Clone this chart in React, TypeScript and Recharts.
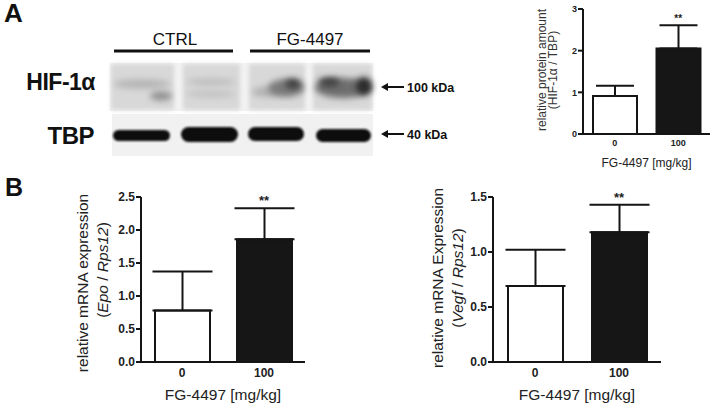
import React from 'react';
import { BarChart, Bar, Cell, XAxis, YAxis, ErrorBar, ReferenceDot, Label } from 'recharts';

// dose groups shared by all three panels
const doseLabels = ['0', '100'];
const sigMarks = ['', '**'];

// A: HIF-1a / TBP densitometry
const hifMean = [0.91, 2.05];
const hifErr = [0.25, 0.56];
const hifTicks = [0, 1, 2, 3];

// B left: Epo mRNA
const epoMean = [0.78, 1.86];
const epoErr = [0.59, 0.47];
const epoTicks = [0, 0.5, 1, 1.5, 2, 2.5];

// B right: Vegf mRNA
const vegfMean = [0.69, 1.18];
const vegfErr = [0.33, 0.25];
const vegfTicks = [0, 0.5, 1, 1.5];

const FONT = '"Liberation Sans", Arial, Helvetica, sans-serif';
const INK = '#151515';
const barFills = ['#ffffff', '#161616'];

interface BarsProps {
  means: number[];
  errs: number[];
  ticks: number[];
  decimals: number;
  left: number;
  top: number;
  width: number;
  height: number;
  yAxisWidth: number;
  right: number;
  marginTop: number;
  xAxisHeight: number;
  barSize: number;
  capWidth: number;
  tickFont: number;
  labelFont: number;
  labelOffset: number;
  sigFont: number;
}

function DoseBars(p: BarsProps) {
  const rows = doseLabels.map((d, i) => ({ dose: d, mean: p.means[i], err: [0, p.errs[i]] }));
  const tickStyle = { fontSize: p.tickFont, fontWeight: 700, fill: '#222', fontFamily: FONT };

  return (
    <div style={{ position: 'absolute', left: p.left, top: p.top }}>
      <BarChart width={p.width} height={p.height} data={rows} margin={{ top: p.marginTop, right: p.right, left: 0, bottom: 0 }} barCategoryGap={0}>
        <XAxis dataKey="dose" height={p.xAxisHeight} tickLine={false} tickSize={4} axisLine={{ stroke: INK, strokeWidth: 2 }} tick={tickStyle}>
          <Label value="FG-4497 [mg/kg]" position="insideBottom" offset={p.labelOffset} style={{ fontSize: p.labelFont, fill: '#222', fontFamily: FONT }} />
        </XAxis>
        <YAxis
          width={p.yAxisWidth}
          domain={[0, p.ticks[p.ticks.length - 1]]}
          ticks={p.ticks}
          interval={0}
          tickFormatter={(v: number) => v.toFixed(p.decimals)}
          axisLine={{ stroke: INK, strokeWidth: 2 }}
          tickLine={{ stroke: INK, strokeWidth: 2 }}
          tickSize={5}
          tickMargin={1}
          tick={tickStyle}
        />
        <Bar dataKey="mean" barSize={p.barSize} stroke={INK} strokeWidth={2} isAnimationActive={false}>
          {rows.map((_, i) => <Cell key={i} fill={barFills[i]} />)}
          <ErrorBar dataKey="err" width={p.capWidth} stroke={INK} strokeWidth={2} direction="y" />
        </Bar>
        {rows.map((r, i) =>
          sigMarks[i] ? (
            <ReferenceDot
              key={i}
              x={r.dose}
              y={r.mean + p.errs[i]}
              r={0}
              fill="none"
              stroke="none"
              label={{ value: sigMarks[i], position: 'top', offset: 3, fontSize: p.sigFont, fontWeight: 700, fill: '#222', fontFamily: FONT }}
            />
          ) : null
        )}
      </BarChart>
    </div>
  );
}

// western blot drawn as plain svg (not data)
function Blot() {
  const lanes = [
    { x: 111, w: 63 },
    { x: 183, w: 57 },
    { x: 249, w: 56 },
    { x: 313, w: 59 },
  ];
  const hif = [
    { x: 114, y: 84, w: 56, h: 9, c: '#b4b4b4' },
    { x: 150, y: 96, w: 22, h: 9, c: '#8e8e8e' },
    { x: 186, y: 82, w: 50, h: 7, c: '#bdbdbd' },
    { x: 186, y: 94, w: 50, h: 7, c: '#c2c2c2' },
    { x: 252, y: 92, w: 30, h: 10, c: '#b0b0b0' },
    { x: 268, y: 88, w: 36, h: 18, c: '#7a7a7a' },
    { x: 285, y: 84, w: 16, h: 10, c: '#3c3c3c' },
    { x: 315, y: 88, w: 56, h: 20, c: '#6e6e6e' },
    { x: 318, y: 82, w: 22, h: 9, c: '#3e3e3e' },
    { x: 356, y: 86, w: 16, h: 18, c: '#2a2a2a' },
  ];
  const tbp = [
    { x: 113, y: 130, w: 57, h: 11 },
    { x: 181, y: 127, w: 57, h: 15 },
    { x: 248, y: 127, w: 56, h: 14 },
    { x: 316, y: 129, w: 55, h: 13 },
  ];
  return (
    <svg width={714} height={405} style={{ position: 'absolute', left: 0, top: 0, pointerEvents: 'none' }} fontFamily={FONT}>
      <defs>
        <filter id="soft" x="-40%" y="-80%" width="180%" height="260%">
          <feGaussianBlur stdDeviation="3" />
        </filter>
        <filter id="lane" x="-10%" y="-10%" width="120%" height="120%">
          <feGaussianBlur stdDeviation="2" />
        </filter>
        <filter id="band" x="-10%" y="-50%" width="120%" height="200%">
          <feGaussianBlur stdDeviation="1.3" />
        </filter>
      </defs>

      <text x={4} y={22} fontSize={26} fontWeight={700} fill="#111">A</text>
      <text x={5} y={196} fontSize={25} fontWeight={700} fill="#111">B</text>

      <text x={175} y={45} fontSize={17} textAnchor="middle" fill="#111">CTRL</text>
      <text x={310} y={45} fontSize={17} textAnchor="middle" fill="#111">FG-4497</text>
      <rect x={114} y={49.5} width={119} height={3} fill="#111" />
      <rect x={250} y={49.5} width={120} height={3} fill="#111" />

      <text x={95} y={90} fontSize={23} fontWeight={700} textAnchor="end" fill="#111" letterSpacing={-0.5}>HIF-1α</text>
      <text x={94} y={144} fontSize={24} fontWeight={700} textAnchor="end" fill="#111" letterSpacing={-0.5}>TBP</text>

      {/* upper strip */}
      <rect x={110} y={63} width={263} height={48} fill="#f2f2f2" />
      {lanes.map((l, i) => (
        <rect key={i} x={l.x} y={64} width={l.w} height={46} fill="#d8d8d8" filter="url(#lane)" />
      ))}
      {hif.map((b, i) => (
        <ellipse key={i} cx={b.x + b.w / 2} cy={b.y} rx={b.w / 2} ry={b.h / 2} fill={b.c} filter="url(#soft)" />
      ))}

      {/* lower strip */}
      <rect x={112} y={114} width={261} height={42} fill="#f1f1f1" />
      {tbp.map((b, i) => (
        <rect key={i} x={b.x} y={b.y} width={b.w} height={b.h} rx={b.h / 2} fill="#0c0c0c" filter="url(#band)" />
      ))}

      {/* size markers */}
      <line x1={384} y1={87} x2={404} y2={87} stroke="#111" strokeWidth={2} />
      <path d="M381 87 L388 83 L388 91 Z" fill="#111" />
      <text x={407} y={91.5} fontSize={12.5} fontWeight={700} fill="#111">100 kDa</text>
      <line x1={384} y1={134} x2={404} y2={134} stroke="#111" strokeWidth={2} />
      <path d="M381 134 L388 130 L388 138 Z" fill="#111" />
      <text x={407} y={138.5} fontSize={12.5} fontWeight={700} fill="#111">40 kDa</text>

      {/* y-axis titles */}
      <text transform="translate(542,70) rotate(-90)" fontSize={12} textAnchor="middle" dominantBaseline="central" fill="#333">relative protein amount</text>
      <text transform="translate(553,70) rotate(-90)" fontSize={12} textAnchor="middle" dominantBaseline="central" fill="#333">(HIF-1α / TBP)</text>

      <text transform="translate(82,283) rotate(-90)" fontSize={15.5} textAnchor="middle" dominantBaseline="central" fill="#222">relative mRNA expression</text>
      <text transform="translate(102,270) rotate(-90)" fontSize={15.5} textAnchor="middle" dominantBaseline="central" fill="#222">
        (<tspan fontStyle="italic">Epo</tspan> / <tspan fontStyle="italic">Rps12</tspan>)
      </text>

      <text transform="translate(437,278) rotate(-90)" fontSize={15.5} textAnchor="middle" dominantBaseline="central" fill="#222">relative mRNA Expression</text>
      <text transform="translate(457,278) rotate(-90)" fontSize={15.5} textAnchor="middle" dominantBaseline="central" fill="#222">
        (<tspan fontStyle="italic">Vegf</tspan> / <tspan fontStyle="italic">Rps12</tspan>)
      </text>
    </svg>
  );
}

export default function App() {
  return (
    <div style={{ position: 'absolute', left: 0, top: 0, width: 714, height: 405, overflow: 'hidden', background: '#fff', fontFamily: FONT }}>
      <DoseBars
        means={hifMean} errs={hifErr} ticks={hifTicks} decimals={0}
        left={500} top={0} width={214} height={170} yAxisWidth={83} right={4} marginTop={9} xAxisHeight={36}
        barSize={44} capWidth={19} tickFont={9} labelFont={12} labelOffset={3} sigFont={10}
      />
      <DoseBars
        means={epoMean} errs={epoErr} ticks={epoTicks} decimals={1}
        left={0} top={180} width={320} height={225} yAxisWidth={141} right={15} marginTop={17} xAxisHeight={43}
        barSize={55} capWidth={30} tickFont={12} labelFont={15.5} labelOffset={5} sigFont={13}
      />
      <DoseBars
        means={vegfMean} errs={vegfErr} ticks={vegfTicks} decimals={1}
        left={360} top={180} width={320} height={225} yAxisWidth={133} right={19} marginTop={17} xAxisHeight={43}
        barSize={55} capWidth={30} tickFont={12} labelFont={15.5} labelOffset={5} sigFont={13}
      />
      <Blot />
    </div>
  );
}
